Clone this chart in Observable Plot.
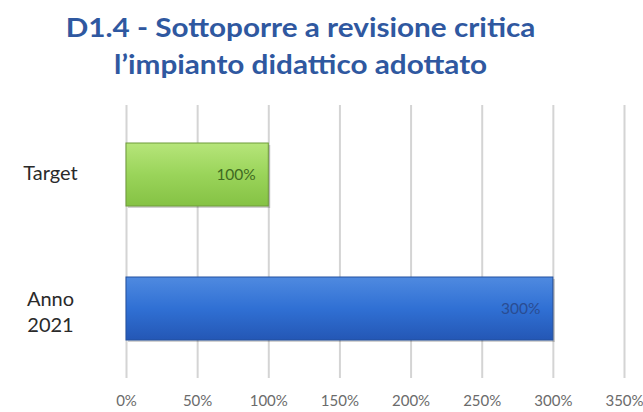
<!DOCTYPE html>
<html>
<head>
<meta charset="utf-8">
<script src="https://cdn.jsdelivr.net/npm/d3@7"></script>
<script src="https://cdn.jsdelivr.net/npm/@observablehq/plot@0.6"></script>
<style>
  html, body { margin: 0; padding: 0; background: #fff; }
  #wrap { width: 643px; height: 412px; overflow: hidden; position: relative; }
  #title { width: 602px; height: 90px; box-sizing: border-box; padding-top: 8px; text-align: center;
    font-family: Lato, "Open Sans", sans-serif; font-weight: bold; font-size: 27px; line-height: 37px; color: #2F58A0; }
  #title span { display: inline-block; transform: scaleX(1.1); white-space: nowrap; }
</style>
</head>
<body>
<div id="wrap">
  <div id="title"><span>D1.4 - Sottoporre a revisione critica</span><br><span>l’impianto didattico adottato</span></div>
  <div id="chart"></div>
</div>
<script>
const categories = ["Target", "Anno 2021"];
const values = [100, 300];
const barColors = ["url(#gGreen)", "url(#gBlue)"];
const strokeColors = ["#6f9c3a", "#22509f"];
const labelColors = ["#3f6a22", "#2a4c92"];
const xTicks = [0, 50, 100, 150, 200, 250, 300, 350];

const data = categories.map((c, i) => ({cat: c, value: values[i], fill: barColors[i], stroke: strokeColors[i], lc: labelColors[i]}));

const defs = () => {
  const ns = "http://www.w3.org/2000/svg";
  const g = document.createElementNS(ns, "defs");
  g.innerHTML = `
    <linearGradient id="gGreen" x1="0" y1="0" x2="0" y2="1">
      <stop offset="0" stop-color="#b6e57a"/>
      <stop offset="0.5" stop-color="#9ad45a"/>
      <stop offset="1" stop-color="#85c244"/>
    </linearGradient>
    <linearGradient id="gBlue" x1="0" y1="0" x2="0" y2="1">
      <stop offset="0" stop-color="#4f8ae0"/>
      <stop offset="0.5" stop-color="#3070d4"/>
      <stop offset="1" stop-color="#2457b5"/>
    </linearGradient>`;
  return g;
};

const yFmt = d => d === "Anno 2021" ? "Anno\n2021" : d;
const yAxisStyle = {tickSize: 0, tickPadding: 76, textAnchor: "middle", fontSize: 20, color: "#2a2a2a", label: null, tickFormat: yFmt, lineHeight: 1.3};

const chart = Plot.plot({
  width: 643,
  height: 322,
  marginTop: 15,
  marginBottom: 34,
  marginLeft: 126,
  marginRight: 19,
  style: {fontFamily: "Lato, 'Open Sans', sans-serif", background: "#fff"},
  x: {domain: [0, 350], axis: null},
  y: {domain: categories, paddingInner: 0.533, paddingOuter: 0.285, axis: null},
  marks: [
    defs,
    Plot.gridX(xTicks, {stroke: "#d4d4d4", strokeOpacity: 1, strokeWidth: 2}),
    Plot.barX(data, {x: "value", y: "cat", fill: "#000", fillOpacity: 0.18, dx: 2, dy: 2}),
    Plot.barX(data, {x: "value", y: "cat", fill: "fill", stroke: "stroke", strokeWidth: 1}),
    Plot.text(data, {x: "value", y: "cat", text: d => d.value + "%", fill: "lc", textAnchor: "end", dx: -13, fontSize: 15.5}),
    Plot.axisX({ticks: xTicks, tickSize: 0, tickPadding: 17, tickFormat: d => d + "%", fontSize: 15, color: "#6b6b6b", label: null}),
    Plot.axisY([categories[0]], {...yAxisStyle, dy: -3}),
    Plot.axisY([categories[1]], {...yAxisStyle, dy: 2})
  ]
});
document.getElementById("chart").appendChild(chart);
</script>
</body>
</html>
